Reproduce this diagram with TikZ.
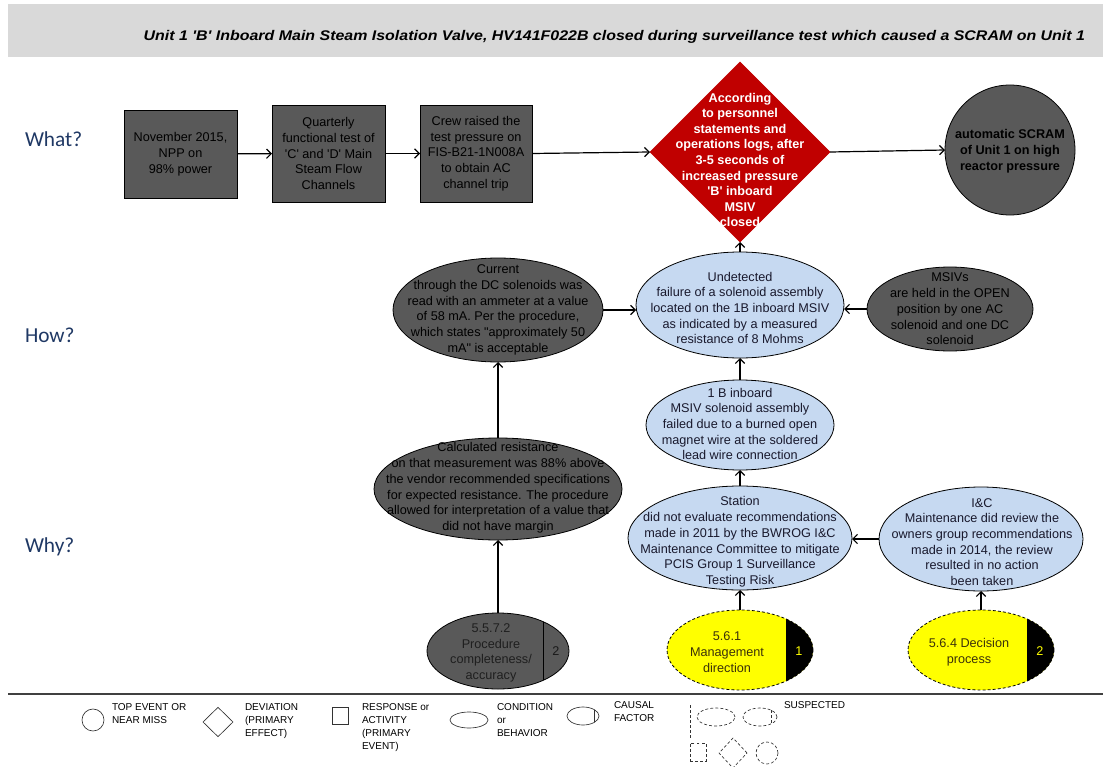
\documentclass[tikz,border=0pt]{standalone}
\usepackage{fontspec}
\usepackage{graphicx}
\setmainfont{Liberation Sans}[Ligatures=TeXOff]
\newfontfamily\lblfont{Carlito}
\usetikzlibrary{shapes.geometric,arrows.meta}
\definecolor{dk}{RGB}{89,89,89}
\definecolor{lb}{RGB}{198,217,241}
\definecolor{rd}{RGB}{192,0,0}
\definecolor{yl}{RGB}{255,255,0}
\definecolor{hdr}{RGB}{217,217,217}
\definecolor{navy}{RGB}{31,56,100}
\definecolor{ntxt}{RGB}{25,25,45}
\definecolor{ytxt}{RGB}{60,50,10}
\definecolor{sep}{RGB}{64,64,64}
\begin{document}
\begin{tikzpicture}[x=0.75pt,y=-0.75pt,
  every node/.style={inner sep=0pt, outer sep=0pt},
  mtxt/.style={font=\fontsize{9.5}{11.8}\selectfont, align=center},
  actbox/.style={rectangle, draw=black, line width=0.6pt, fill=dk},
  cond/.style={ellipse, draw=black, line width=0.6pt},
  arr/.style={-{Straight Barb[length=3.5pt,width=7pt]}, line width=0.9pt},
  lgtxt/.style={font=\fontsize{7.5}{9.75}\selectfont, align=left, anchor=north west},
  lgshape/.style={draw=black!80, line width=0.5pt},
  susp/.style={dash pattern=on 2.2pt off 1.6pt}
]
\useasboundingbox (0,0) rectangle (1103,767);
% header
\fill[hdr] (8,4) rectangle (1103,57);
\node[font=\bfseries\itshape\fontsize{10.5}{12}\selectfont, anchor=east] (title) at (1085,37)
  {\resizebox{706pt}{\height}{Unit 1 'B' Inboard Main Steam Isolation Valve, HV141F022B closed during surveillance test which caused a SCRAM on Unit 1}};
% row labels
\node[font=\lblfont\fontsize{16}{18}\selectfont, text=navy, anchor=west] (what) at (25,139) {What?};
\node[font=\lblfont\fontsize{16}{18}\selectfont, text=navy, anchor=west] (how) at (25,335) {How?};
\node[font=\lblfont\fontsize{16}{18}\selectfont, text=navy, anchor=west] (why) at (25,547) {Why?};
% What row
\node[actbox, minimum width=84.75pt, minimum height=66pt] (b1) at (180.5,154) {};
\node[mtxt] (b1t) at (b1) {November 2015,\\NPP on\\98\% power};
\node[actbox, minimum width=84.75pt, minimum height=72.75pt] (b2) at (328.5,153.5) {};
\node[mtxt] (b2t) at (b2) {Quarterly\\functional test of\\'C' and 'D' Main\\Steam Flow\\Channels};
\node[actbox, minimum width=84pt, minimum height=72.75pt] (b3) at (476,153.5) {};
\node[mtxt] (b3t) at (b3) {Crew raised the\\test pressure on\\FIS-B21-1N008A\\to obtain AC\\channel trip};
\node[diamond, fill=rd, draw=rd, minimum width=135pt, minimum height=135pt] (dev) at (740,152) {};
\node[font=\fontsize{9.5}{11.7}\selectfont\bfseries, align=center, text=white] (devt) at (740,160)
  {According\\to personnel\\statements and\\operations logs, after\\3-5 seconds of\\increased pressure\\'B' inboard\\MSIV\\closed};
\node[circle, draw=black, line width=0.6pt, fill=dk, minimum size=97.5pt] (top) at (1010,150) {};
\node[font=\fontsize{9.5}{11.8}\selectfont\bfseries, align=center] (topt) at (1010,151)
  {automatic SCRAM\\of Unit 1 on high\\reactor pressure};
% How row
\node[cond, fill=lb, minimum width=156pt, minimum height=79.5pt] (und) at (740,305) {};
\node[mtxt, text=ntxt] (undt) at (740,308) {Undetected\\failure of a solenoid assembly\\located on the 1B inboard MSIV\\as indicated by a measured\\resistance of 8 Mohms};
\node[cond, fill=dk, minimum width=124.5pt, minimum height=63pt] (msiv) at (950,309) {};
\node[mtxt] (msivt) at (950,309) {MSIVs\\are held in the OPEN\\position by one AC\\solenoid and one DC\\solenoid};
\node[cond, fill=dk, minimum width=157.5pt, minimum height=78pt] (cur) at (498,310) {};
\node[mtxt] (curt) at (498,310) {Current\\through the DC solenoids was\\read with an ammeter at a value\\of 58 mA. Per the procedure,\\which states "approximately 50\\mA" is acceptable};
\node[cond, fill=lb, minimum width=141pt, minimum height=67.5pt] (oneb) at (740,425) {};
\node[mtxt, text=ntxt] (onebt) at (740,424) {1 B inboard\\MSIV solenoid assembly\\failed due to a burned open\\magnet wire at the soldered\\lead wire connection};
% Why row
\node[cond, fill=dk, minimum width=186pt, minimum height=76.5pt] (calc) at (498,489) {};
\node[mtxt] (calct) at (498,488) {Calculated resistance\\on that measurement was 88\% above\\the vendor recommended specifications\\for expected resistance. The procedure\\allowed for interpretation of a value that\\did not have margin};
\node[cond, fill=lb, minimum width=168pt, minimum height=78pt] (stn) at (740,538) {};
\node[mtxt, text=ntxt] (stnt) at (740,542) {Station\\did not evaluate recommendations\\made in 2011 by the BWROG I\&C\\Maintenance Committee to mitigate\\PCIS Group 1 Surveillance\\Testing Risk};
\node[cond, fill=lb, minimum width=153pt, minimum height=78pt] (ic) at (981,539) {};
\node[mtxt, text=ntxt] (ict) at (982,542) {I\&C\\Maintenance did review the\\owners group recommendations\\made in 2014, the review\\resulted in no action\\been taken};
% causal factors
\node[cond, fill=dk, minimum width=106.5pt, minimum height=57pt] (cf1) at (498,651) {};
\begin{scope}
  \clip (498,651) ellipse [x radius=71, y radius=38];
  \draw[line width=0.6pt] (543,600) -- (543,700);
\end{scope}
\node[mtxt, text=black!88] (cf1t) at (491,653) {5.5.7.2\\Procedure\\completeness/\\accuracy};
\node[mtxt, text=black!90] (cf1n) at (556,651) {2};
\node[ellipse, fill=yl, minimum width=109.5pt, minimum height=60pt] (cf2) at (740,650) {};
\begin{scope}
  \clip (740,650) ellipse [x radius=73, y radius=40];
  \fill[black] (786,600) rectangle (820,700);
\end{scope}
\draw[susp, line width=0.6pt] (740,650) ellipse [x radius=73, y radius=40];
\node[mtxt, text=ytxt] (cf2t) at (727,652) {5.6.1\\Management\\direction};
\node[mtxt, text=yl] (cf2n) at (799,651) {1};
\node[ellipse, fill=yl, minimum width=109.5pt, minimum height=60pt] (cf3) at (981,650) {};
\begin{scope}
  \clip (981,650) ellipse [x radius=73, y radius=40];
  \fill[black] (1027,600) rectangle (1060,700);
\end{scope}
\draw[susp, line width=0.6pt] (981,650) ellipse [x radius=73, y radius=40];
\node[mtxt, text=ytxt] (cf3t) at (969,652) {5.6.4 Decision\\process};
\node[mtxt, text=yl] (cf3n) at (1040,651) {2};
% connectors
\draw[arr] (b1) -- (b2);
\draw[arr] (b2) -- (b3);
\draw[arr] (b3.east) -- (dev.west);
\draw[arr] (dev.east) -- (top.west);
\draw[arr] (und.north) -- (dev.south);
\draw[arr] (msiv.west) -- (msiv.west -| und.east);
\draw[arr] (cur.east) -- (cur.east -| und.west);
\draw[arr] (calc.north) -- (cur.south);
\draw[arr] (cf1.north) -- (calc.south);
\draw[arr] (oneb.north) -- (und.south);
\draw[arr] (stn.north) -- (oneb.south);
\draw[arr] (ic.west) -- (ic.west -| stn.east);
\draw[arr] (cf2.north) -- (stn.south);
\draw[arr] (cf3.north) -- (ic.south);
% separator
\draw[line width=1.2pt, sep] (8,694) -- (1103,694);
% legend
\node[lgshape, circle, minimum size=16.5pt] (lg1) at (93,720) {};
\node[lgtxt] (lg1t) at (112,704) {TOP EVENT OR\\NEAR MISS};
\node[lgshape, diamond, minimum width=22.5pt, minimum height=22pt] (lg2) at (218,722) {};
\node[lgtxt] (lg2t) at (245,704) {DEVIATION\\(PRIMARY\\EFFECT)};
\node[lgshape, rectangle, minimum width=12pt, minimum height=12.75pt] (lg3) at (340,716) {};
\node[lgtxt] (lg3t) at (362,704) {RESPONSE or\\ACTIVITY\\(PRIMARY\\EVENT)};
\node[lgshape, ellipse, minimum width=28.5pt, minimum height=12pt] (lg4) at (469,720) {};
\node[lgtxt] (lg4t) at (497,704) {CONDITION\\or\\BEHAVIOR};
\node[lgshape, ellipse, minimum width=24pt, minimum height=13.5pt] (lg5) at (583,716) {};
\begin{scope}
  \clip (583,716) ellipse [x radius=16, y radius=9];
  \draw[line width=0.5pt, black!80] (594,700) -- (594,730);
\end{scope}
\node[lgtxt] (lg5t) at (614,702) {CAUSAL\\FACTOR};
\draw[lgshape, susp] (690,705) -- (690,740);
\node[lgshape, susp, ellipse, minimum width=28.5pt, minimum height=13.5pt] (lg6) at (716,717) {};
\node[lgshape, susp, ellipse, minimum width=25.5pt, minimum height=13.5pt] (lg7) at (760,717) {};
\draw[lgshape, susp] (771,710) -- (771,724);
\node[lgtxt] (lg7t) at (784,702) {SUSPECTED};
\node[lgshape, susp, rectangle, minimum width=12pt, minimum height=13.5pt] (lg8) at (698,752) {};
\node[lgshape, susp, diamond, minimum width=21pt, minimum height=22.5pt] (lg9) at (733,753) {};
\node[lgshape, susp, circle, minimum size=16.5pt] (lg10) at (767,753) {};
\end{tikzpicture}
\end{document}
